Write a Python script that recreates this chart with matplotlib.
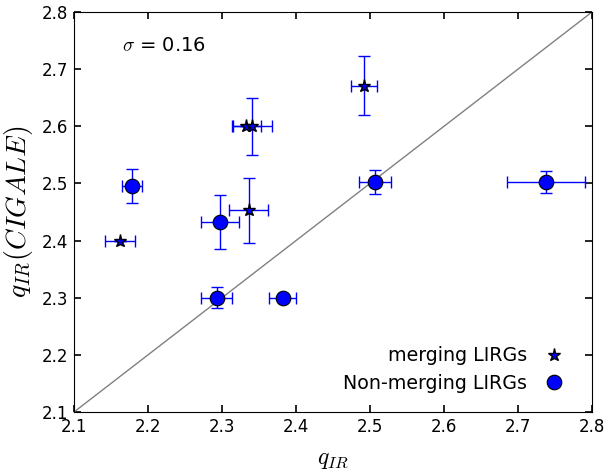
import numpy as np
import matplotlib
matplotlib.use('Agg')
import matplotlib.pyplot as plt

plt.rcParams['mathtext.fontset'] = 'cm'

# merging LIRGs (stars)
m_x = [2.162, 2.333, 2.341, 2.336, 2.492]
m_y = [2.400, 2.600, 2.600, 2.453, 2.671]
m_xerr = [0.020, 0.020, 0.026, 0.026, 0.017]
m_yerr = [0.0, 0.0, 0.050, 0.057, 0.052]

# non-merging LIRGs (circles)
n_x = [2.179, 2.297, 2.293, 2.382, 2.507, 2.738]
n_y = [2.495, 2.432, 2.300, 2.300, 2.502, 2.503]
n_xerr = [0.0135, 0.026, 0.021, 0.018, 0.022, 0.0525]
n_yerr = [0.030, 0.047, 0.018, 0.0, 0.021, 0.019]

sigma = 0.16

fig = plt.figure(figsize=(6.05, 4.75), dpi=100)
ax = fig.add_axes([0.1223, 0.1326, 0.8562, 0.8421])

ax.plot([2.1, 2.8], [2.1, 2.8], color='gray', lw=1)

ax.errorbar(m_x, m_y, xerr=m_xerr, yerr=m_yerr, fmt='none', ecolor='blue',
            elinewidth=1, capsize=4, capthick=1)
ax.errorbar(n_x, n_y, xerr=n_xerr, yerr=n_yerr, fmt='none', ecolor='blue',
            elinewidth=1, capsize=4, capthick=1)
ax.plot(m_x, m_y, ls='none', marker='*', ms=9.5, mfc='blue', mec='black',
        mew=1, label='merging LIRGs')
ax.plot(n_x, n_y, ls='none', marker='o', ms=10.5, mfc='blue', mec='black',
        mew=0.8, label='Non-merging LIRGs')

ax.text(2.165, 2.742, r'$\sigma$ = %.2f' % sigma, fontsize=14, va='center')

ax.set_xlim(2.1, 2.8)
ax.set_ylim(2.1, 2.8)
ax.set_xticks(np.arange(2.1, 2.81, 0.1))
ax.set_yticks(np.arange(2.1, 2.81, 0.1))
ax.tick_params(direction='in', top=True, right=True, length=5, width=1.2,
               labelsize=12, pad=4)
ax.set_xlabel(r'$q_{IR}$', fontsize=17, labelpad=8)
ax.set_ylabel(r'$q_{IR}(CIGALE)$', fontsize=20, labelpad=5)

ax.legend(loc='lower right', frameon=False, numpoints=1, markerfirst=False,
          fontsize=13.7, handletextpad=0.4, borderaxespad=0.6, labelspacing=0.45)

fig.savefig('out.png', dpi=100)
